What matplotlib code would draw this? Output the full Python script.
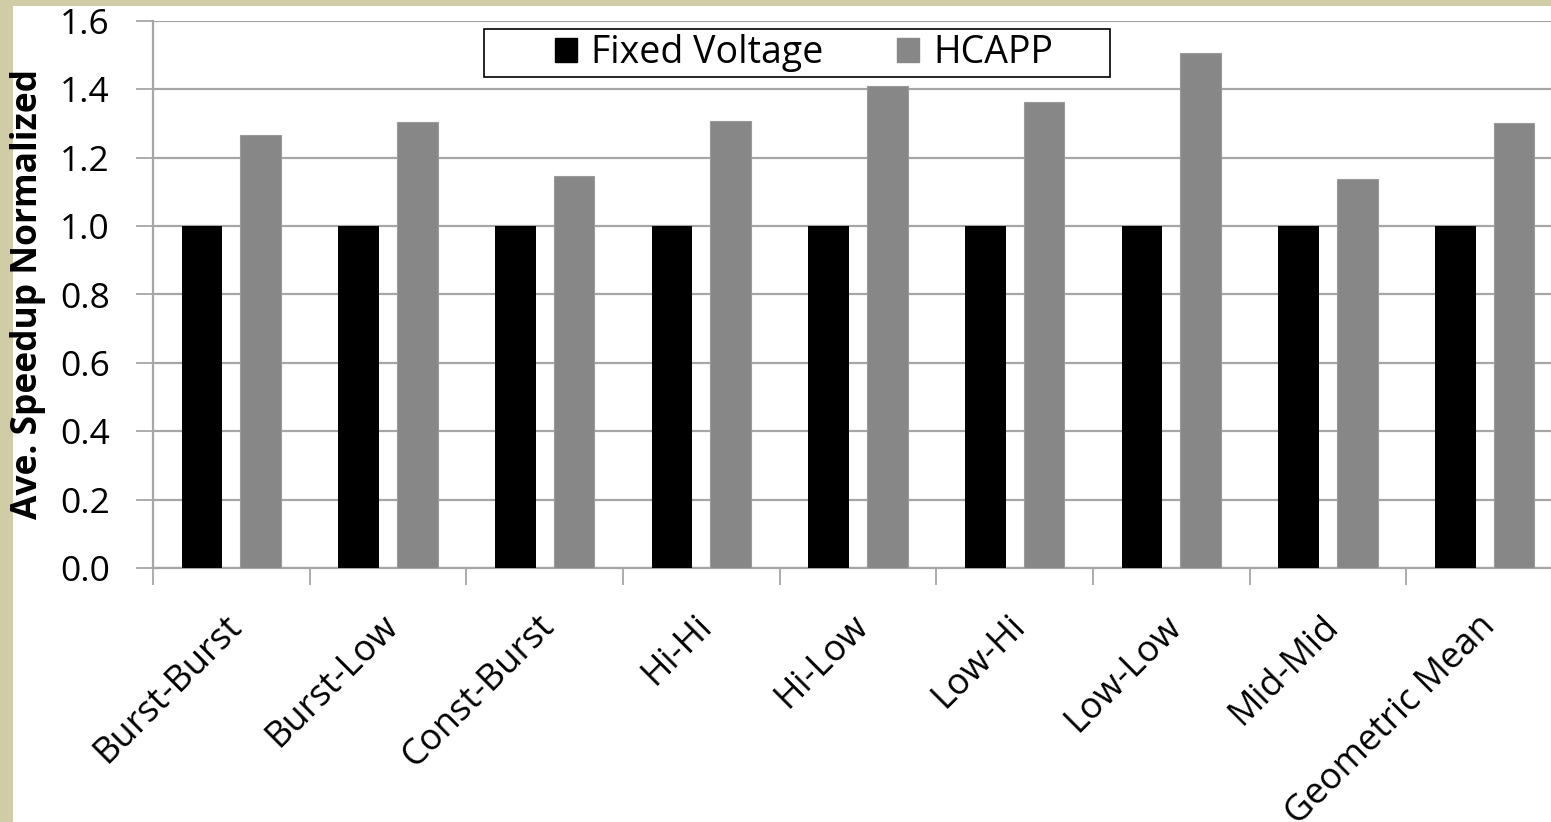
import matplotlib
matplotlib.use("Agg")
import matplotlib.pyplot as plt
from matplotlib.patches import Rectangle, Patch
from matplotlib.transforms import ScaledTranslation
import numpy as np

categories = ["Burst-Burst", "Burst-Low", "Const-Burst", "Hi-Hi", "Hi-Low",
              "Low-Hi", "Low-Low", "Mid-Mid", "Geometric Mean"]
fixed_voltage = [1.0, 1.0, 1.0, 1.0, 1.0, 1.0, 1.0, 1.0, 1.0]
hcapp = [1.267, 1.305, 1.147, 1.308, 1.41, 1.363, 1.507, 1.139, 1.302]
yticks = [0.0, 0.2, 0.4, 0.6, 0.8, 1.0, 1.2, 1.4, 1.6]

plt.rcParams['font.family'] = ['Open Sans', 'DejaVu Sans']

W, H = 1551, 822
fig = plt.figure(figsize=(W / 100, H / 100), dpi=100, facecolor='#cfcca6')
fig.patches.append(Rectangle((13 / W, 0), 1, 1 - 6 / H, transform=fig.transFigure,
                             facecolor='white', edgecolor='none', zorder=-10))

AX_L, AX_W = 153, 1410
AX_T, AX_B = 21, 568
ax = fig.add_axes([AX_L / W, 1 - AX_B / H, AX_W / W, (AX_B - AX_T) / H])
ax.set_zorder(1)
ax.set_facecolor('white')

x = np.arange(len(categories)) + 0.5
w = 0.26
off = 0.187
ax.bar(x - off, fixed_voltage, width=w, color='black', zorder=3, label='Fixed Voltage')
ax.bar(x + off, hcapp, width=w, color='#878787', edgecolor='#9a9a9a', linewidth=0.8,
       zorder=3, label='HCAPP')

ax.set_xlim(0, len(categories))
ax.set_ylim(0, 1.6)
ax.set_yticks(yticks)
ax.set_yticklabels([f"{v:.1f}" for v in yticks], fontsize=25.5)
ax.yaxis.grid(True, color='#a6a6a6', linewidth=1.6, zorder=0)
ax.set_axisbelow(True)

ax.set_xticks(np.arange(len(categories) + 1))
ax.set_xticklabels([])
ax.set_xticks(x, minor=True)
ax.set_xticklabels(categories, minor=True, rotation=45, ha='right', va='top',
                   rotation_mode='anchor', fontsize=26)
ax.tick_params(axis='x', which='minor', length=0, pad=29)
ax.tick_params(axis='x', which='major', length=12, width=1.3, color='#a6a6a6')
ax.tick_params(axis='y', length=12, width=1.3, color='#a6a6a6', pad=19)
shift = ScaledTranslation(-0.075, 0, fig.dpi_scale_trans)
for lbl in ax.get_xticklabels(minor=True):
    lbl.set_transform(lbl.get_transform() + shift)

for s in ['top', 'right']:
    ax.spines[s].set_visible(False)
for s in ['left', 'bottom']:
    ax.spines[s].set_color('#a6a6a6')
    ax.spines[s].set_linewidth(1.6)

ax.set_ylabel("Ave. Speedup Normalized", fontsize=25.5, fontweight='bold')
ax.yaxis.set_label_coords((46 - AX_L) / AX_W, (AX_B - 294) / (AX_B - AX_T))

# legend frame (box) drawn in axes coordinates
LB_L, LB_R, LB_T, LB_B = 484, 1110, 29, 77
ax.add_patch(Rectangle(((LB_L - AX_L) / AX_W, (AX_B - LB_B) / (AX_B - AX_T)),
                       (LB_R - LB_L) / AX_W, (LB_B - LB_T) / (AX_B - AX_T),
                       transform=ax.transAxes, facecolor='white', edgecolor='black',
                       linewidth=1.2, zorder=4, clip_on=False))

handles = [Patch(facecolor='black', edgecolor='black'),
           Patch(facecolor='#878787', edgecolor='#878787')]
leg = ax.legend(handles, ['Fixed Voltage', 'HCAPP'], ncol=2, loc='center',
                bbox_to_anchor=((804 - AX_L) / AX_W, (AX_B - 53) / (AX_B - AX_T)),
                fontsize=27, frameon=False, handlelength=0.6, handleheight=0.6,
                handletextpad=0.38, columnspacing=1.95, borderpad=0, borderaxespad=0)
leg.set_zorder(5)

fig.savefig("out.png", dpi=100, facecolor=fig.get_facecolor())
